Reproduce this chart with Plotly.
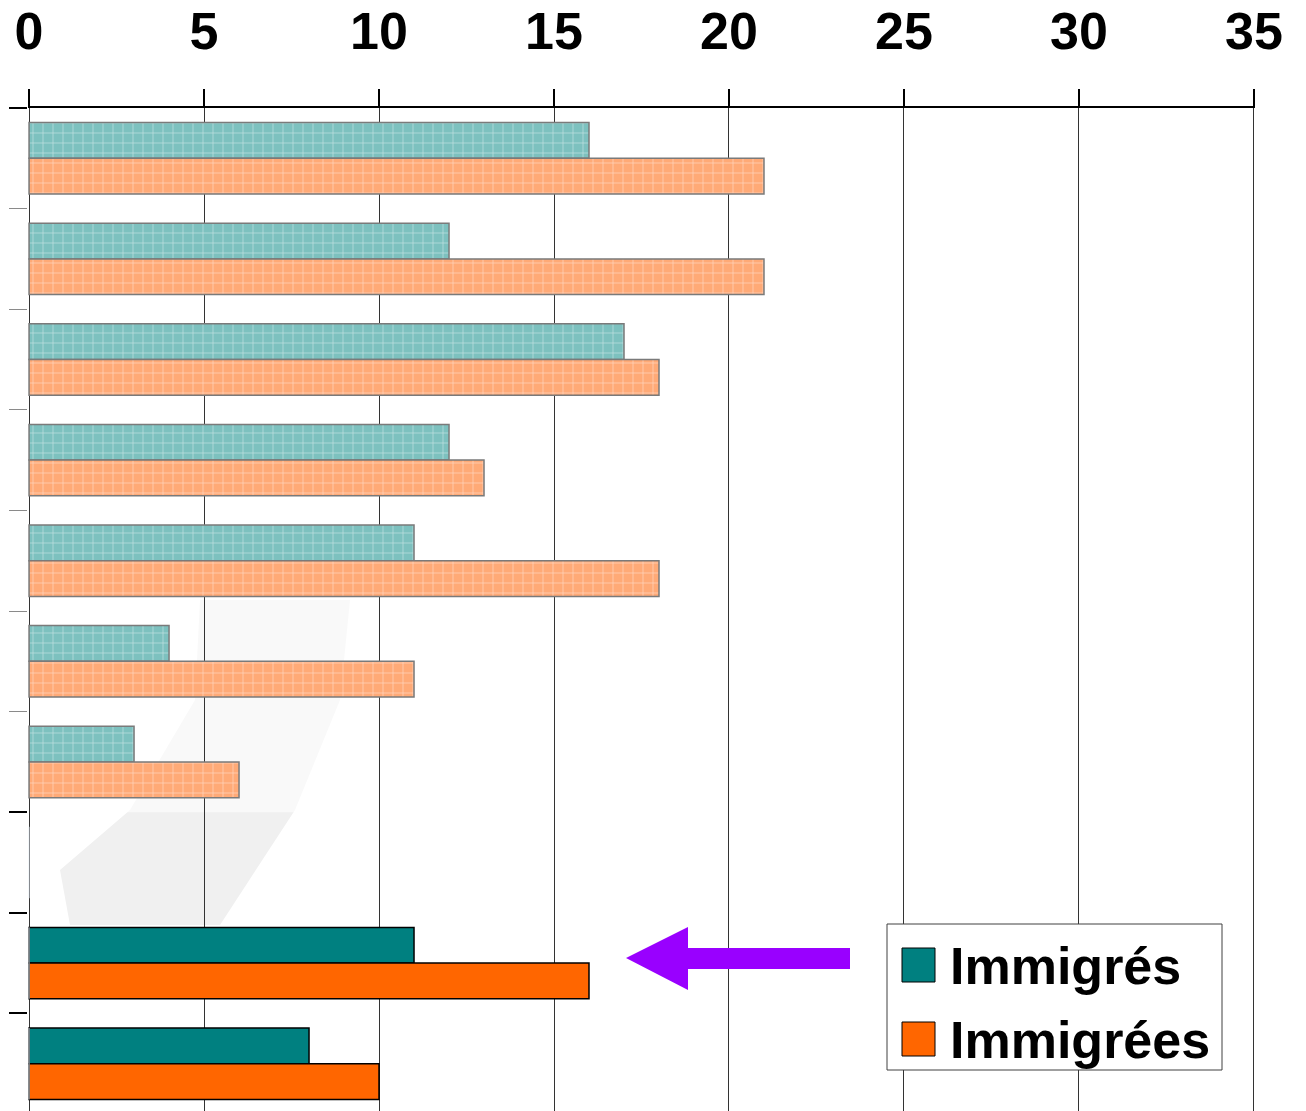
import plotly.graph_objects as go

# Data (row 8 is an empty slot)
rows = list(range(10))
immigres = [16, 12, 17, 12, 11, 4, 3, None, 11, 8]
immigrees = [21, 21, 18, 13, 18, 11, 6, None, 16, 10]
faded_rows = 7  # first 7 rows are drawn faded/hatched
x_ticks = [0, 5, 10, 15, 20, 25, 30, 35]

name_m = "Immigrés"
name_f = "Immigrées"

TEAL = "#008080"
ORANGE = "#FF6600"
TEAL_PALE = "#7dc1bf"
ORANGE_PALE = "#ffaa77"
FONT = "Liberation Sans"

# the page body has an 8px margin, so the figure sits at (8, 8)
BODY = 8
W, H = 1306 - BODY, 1111 - BODY
# plot area in page pixels, used to place the decorations
PX0, PX1, PY0, PY1 = 28, 1255, 108, 1111


def px(x):
    return (x - PX0) / (PX1 - PX0)


def py(y):
    return 1 - (y - PY0) / (PY1 - PY0)


def path(points):
    return "M " + " L ".join(f"{px(a)},{py(b)}" for a, b in points) + " Z"


hatch = dict(shape="+", fgcolor="white", size=10, solidity=0.14, fillmode="overlay")

fig = go.Figure()

fig.add_trace(go.Bar(
    y=rows[:faded_rows], x=immigres[:faded_rows], orientation="h",
    offsetgroup="m", name=name_m, showlegend=False,
    marker=dict(color=TEAL_PALE, line=dict(color="#7a7a7a", width=1.5), pattern=hatch),
))
fig.add_trace(go.Bar(
    y=rows[:faded_rows], x=immigrees[:faded_rows], orientation="h",
    offsetgroup="f", name=name_f, showlegend=False,
    marker=dict(color=ORANGE_PALE, line=dict(color="#7a7a7a", width=1.5), pattern=hatch),
))
fig.add_trace(go.Bar(
    y=rows[faded_rows:], x=immigres[faded_rows:], orientation="h",
    offsetgroup="m", name=name_m, showlegend=False,
    marker=dict(color=TEAL, line=dict(color="black", width=1.5)),
))
fig.add_trace(go.Bar(
    y=rows[faded_rows:], x=immigrees[faded_rows:], orientation="h",
    offsetgroup="f", name=name_f, showlegend=False,
    marker=dict(color=ORANGE, line=dict(color="black", width=1.5)),
))

shapes = [
    # faint watermark band in the background
    dict(type="path", xref="paper", yref="paper", layer="below",
         path=path([(200, 600), (350, 600), (340, 700), (295, 810), (220, 925),
                    (70, 925), (60, 870), (130, 810), (195, 700)]),
         fillcolor="#f0f0f0", line=dict(width=0)),
    # white veil over the upper part (fades grid lines)
    dict(type="rect", xref="paper", yref="y", layer="between",
         x0=0, x1=1, y0=-0.5, y1=faded_rows - 0.5,
         fillcolor="white", opacity=0.6, line=dict(width=0)),
    # purple arrow
    dict(type="path", xref="paper", yref="paper", layer="above",
         path=path([(626, 958), (688, 927), (688, 948), (850, 948),
                    (850, 969), (688, 969), (688, 990)]),
         fillcolor="#9900ff", line=dict(width=0)),
    # legend box
    dict(type="rect", xref="paper", yref="paper", layer="above",
         x0=px(887), x1=px(1222), y0=py(1070), y1=py(924),
         fillcolor="white", line=dict(color="#404040", width=1)),
    dict(type="rect", xref="paper", yref="paper", layer="above",
         x0=px(902), x1=px(935), y0=py(982), y1=py(948),
         fillcolor=TEAL, line=dict(color="black", width=1)),
    dict(type="rect", xref="paper", yref="paper", layer="above",
         x0=px(902), x1=px(935), y0=py(1056), y1=py(1022),
         fillcolor=ORANGE, line=dict(color="black", width=1)),
]

annotations = [
    dict(text=name_m, xref="paper", yref="paper", x=px(948), y=py(966),
         xanchor="left", yanchor="middle", showarrow=False,
         font=dict(family=FONT, size=52, color="black", weight="bold")),
    dict(text=name_f, xref="paper", yref="paper", x=px(948), y=py(1040),
         xanchor="left", yanchor="middle", showarrow=False,
         font=dict(family=FONT, size=52, color="black", weight="bold")),
]

fig.update_layout(
    width=W, height=H,
    margin=dict(l=PX0 - BODY, r=W - (PX1 - BODY), t=PY0 - BODY, b=0),
    paper_bgcolor="white", plot_bgcolor="white",
    barmode="group", bargap=0.29, bargroupgap=0,
    shapes=shapes, annotations=annotations,
    xaxis=dict(
        side="top", range=[-0.03, 35.03], tickvals=x_ticks, automargin=False,
        ticks="outside", ticklen=17, tickcolor="black", tickwidth=1.5,
        showline=True, linecolor="black", linewidth=1.5,
        showgrid=True, gridcolor="#333333", gridwidth=1.2, zeroline=False,
        ticklabelstandoff=19,
        tickfont=dict(family=FONT, size=52, color="black", weight="bold"),
    ),
    yaxis=dict(
        range=[9.47, -0.5], tickvals=[r + 0.5 for r in rows[:faded_rows - 1]],
        ticks="outside", ticklen=18, tickcolor="#8a8a8a", tickwidth=1, automargin=False,
        showticklabels=False, showline=False, showgrid=False, zeroline=False,
    ),
    yaxis2=dict(
        overlaying="y", range=[9.47, -0.5], automargin=False,
        tickvals=[-0.5] + [r + 0.5 for r in rows[faded_rows - 1:9]],
        ticks="outside", ticklen=18, tickcolor="black", tickwidth=1.5,
        showticklabels=False, showline=False, showgrid=False, zeroline=False,
    ),
)

# invisible bars so that the second y axis (black ticks) is drawn
fig.add_trace(go.Bar(y=rows[faded_rows:], x=[0] * len(rows[faded_rows:]), orientation="h",
                     yaxis="y2", showlegend=False, hoverinfo="skip",
                     marker=dict(color="rgba(0,0,0,0)")))

fig.write_html("out.html")
